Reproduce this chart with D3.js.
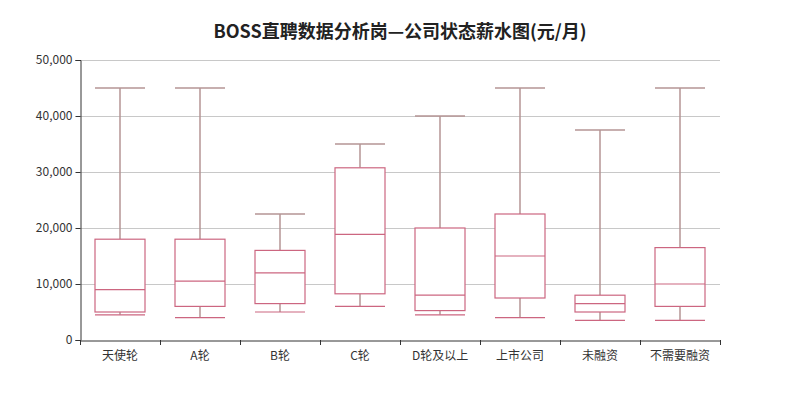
<!DOCTYPE html>
<html><head><meta charset="utf-8">
<script src="https://cdn.jsdelivr.net/npm/d3@7/dist/d3.min.js"></script>
<style>body{margin:0;background:#fff;}svg{display:block;}</style>
</head><body><svg id="c" width="800" height="400"></svg>
<script>
const categories = ["天使轮","A轮","B轮","C轮","D轮及以上","上市公司","未融资","不需要融资"];
const minValues    = [4500, 4000, 5000, 6000, 4500, 4000, 3500, 3500];
const q1Values     = [5000, 6000, 6500, 8250, 5250, 7500, 5000, 6000];
const medianValues = [9000, 10500, 12000, 18875, 8000, 15000, 6500, 10000];
const q3Values     = [18000, 18000, 16000, 30750, 20000, 22500, 8000, 16500];
const maxValues    = [45000, 45000, 22500, 35000, 40000, 45000, 37500, 45000];
const yTicks = [0, 10000, 20000, 30000, 40000, 50000];
const title = "BOSS直聘数据分析岗—公司状态薪水图(元/月)";

const svg = d3.select("#c");
const m = {left: 80, right: 80, top: 60, bottom: 60};
const W = 800, H = 400;
const x = d3.scaleBand().domain(categories).range([m.left, W - m.right]);
const y = d3.scaleLinear().domain([0, 50000]).range([H - m.bottom, m.top]);
const font = "'Noto Sans CJK SC', 'Noto Sans', sans-serif";

svg.append("text").attr("x", 400).attr("y", 38).attr("text-anchor", "middle")
  .attr("font-family", font).attr("font-weight", "bold").attr("font-size", 18)
  .attr("fill", "#222").text(title);

// grid
svg.append("g").selectAll("line").data(yTicks.filter(d => d > 0)).join("line")
  .attr("x1", m.left).attr("x2", W - m.right)
  .attr("y1", d => y(d) + 0.5).attr("y2", d => y(d) + 0.5)
  .attr("stroke", "#c8c8c8").attr("stroke-width", 1);

// y axis
const ya = svg.append("g").attr("transform", `translate(${m.left + 0.5},0)`)
  .call(d3.axisLeft(y).tickValues(yTicks).tickFormat(d3.format(",")).tickSizeOuter(0).tickSize(5));
ya.select(".domain").attr("stroke", "#333");
ya.selectAll(".tick line").attr("stroke", "#333");
ya.selectAll("text").attr("font-family", font).attr("font-size", 12).attr("fill", "#333");

// x axis
const xa = svg.append("g").attr("transform", `translate(0,${H - m.bottom + 0.5})`)
  .call(d3.axisBottom(x).tickSize(0).tickSizeOuter(0));
xa.select(".domain").attr("stroke", "#333");
xa.selectAll("text").attr("font-family", font).attr("font-size", 12).attr("fill", "#333").attr("dy", "1.35em");
const bounds = categories.map(c => x(c)).concat([x(categories[categories.length-1]) + x.bandwidth()]);
svg.append("g").selectAll("line").data(bounds).join("line")
  .attr("x1", d => Math.round(d) + 0.5).attr("x2", d => Math.round(d) + 0.5)
  .attr("y1", H - m.bottom).attr("y2", H - m.bottom + 5).attr("stroke", "#333");

const data = categories.map((c, i) => ({c, min: minValues[i], q1: q1Values[i], med: medianValues[i], q3: q3Values[i], max: maxValues[i]}));
const bw = 50;
const whiskerColor = "#b59494";
const boxColor = "#cc6680";
const g = svg.append("g").selectAll("g").data(data).join("g")
  .attr("transform", d => `translate(${x(d.c) + x.bandwidth() / 2},0)`);
// whiskers
g.append("line").attr("x1", 0).attr("x2", 0).attr("y1", d => y(d.max)).attr("y2", d => y(d.q3))
  .attr("stroke", whiskerColor).attr("stroke-width", 1.5);
g.append("line").attr("x1", 0).attr("x2", 0).attr("y1", d => y(d.q1)).attr("y2", d => y(d.min))
  .attr("stroke", whiskerColor).attr("stroke-width", 1.5);
g.append("line").attr("x1", -bw/2).attr("x2", bw/2).attr("y1", d => y(d.max)).attr("y2", d => y(d.max))
  .attr("stroke", whiskerColor).attr("stroke-width", 1.5);
g.append("line").attr("x1", -bw/2).attr("x2", bw/2).attr("y1", d => y(d.min)).attr("y2", d => y(d.min))
  .attr("stroke", boxColor).attr("stroke-width", 1.2);
// box
g.append("rect").attr("x", -bw/2).attr("width", bw)
  .attr("y", d => y(d.q3)).attr("height", d => y(d.q1) - y(d.q3))
  .attr("fill", "#fff").attr("stroke", boxColor).attr("stroke-width", 1.2);
g.append("line").attr("x1", -bw/2).attr("x2", bw/2).attr("y1", d => y(d.med)).attr("y2", d => y(d.med))
  .attr("stroke", boxColor).attr("stroke-width", 1.2);
</script></body></html>
